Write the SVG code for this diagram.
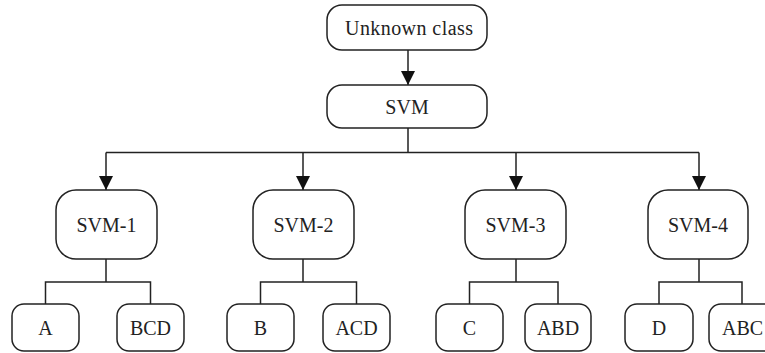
<svg xmlns="http://www.w3.org/2000/svg" width="765" height="353" viewBox="0 0 765 353">
<defs>
<marker id="arr" markerUnits="userSpaceOnUse" markerWidth="14" markerHeight="14" refX="14" refY="7" orient="auto">
<path d="M0,0 L14,7 L0,14 Z" fill="#111"/>
</marker>
<style>
rect{fill:#fff;stroke:#222;stroke-width:1.5}
text{font-family:"Liberation Serif","Times New Roman",serif;font-size:20px;fill:#222;text-anchor:middle}
.c{fill:none;stroke:#222;stroke-width:1.5}
</style>
</defs>
<rect x="0" y="0" width="765" height="353" style="fill:#fff;stroke:none"/>
<g id="connectors">
<path class="c" d="M408,50 V85" marker-end="url(#arr)"/>
<path class="c" d="M408,128 V152.5 M106,152.5 H699"/>
<path class="c" d="M106,152.5 V190" marker-end="url(#arr)"/>
<path class="c" d="M303,152.5 V190" marker-end="url(#arr)"/>
<path class="c" d="M516,152.5 V190" marker-end="url(#arr)"/>
<path class="c" d="M699,152.5 V190" marker-end="url(#arr)"/>
<path class="c" d="M106,259 V282 M45.5,304 V282 H150.5 V304"/>
<path class="c" d="M303,259 V282 M260.5,304 V282 H356.5 V304"/>
<path class="c" d="M516,259 V282 M469.5,304 V282 H558 V304"/>
<path class="c" d="M699,259 V282 M659,304 V282 H742 V304"/>
</g>
<g id="unknown"><rect x="327" y="5" width="160" height="45" rx="15"/><text x="409" y="34.5" textLength="128" lengthAdjust="spacing">Unknown class</text></g>
<g id="svm"><rect x="327" y="85" width="160" height="43" rx="15"/><text x="407" y="113.5">SVM</text></g>
<g id="svm1"><rect x="56" y="190" width="101" height="69" rx="20"/><text x="106.5" y="231.5">SVM-1</text></g>
<g id="svm2"><rect x="253" y="190" width="101" height="69" rx="20"/><text x="303.5" y="231.5">SVM-2</text></g>
<g id="svm3"><rect x="465" y="190" width="101" height="69" rx="20"/><text x="515.5" y="231.5">SVM-3</text></g>
<g id="svm4"><rect x="648" y="190" width="100" height="69" rx="20"/><text x="698" y="231.5">SVM-4</text></g>
<g id="a"><rect x="12" y="304" width="67" height="47" rx="12"/><text x="45.5" y="334.5">A</text></g>
<g id="bcd"><rect x="117" y="304" width="67" height="47" rx="12"/><text x="150.5" y="334.5">BCD</text></g>
<g id="b"><rect x="227" y="304" width="67" height="47" rx="12"/><text x="260.5" y="334.5">B</text></g>
<g id="acd"><rect x="323" y="304" width="67" height="47" rx="12"/><text x="356.5" y="334.5">ACD</text></g>
<g id="c"><rect x="436" y="304" width="67" height="47" rx="12"/><text x="469.5" y="334.5">C</text></g>
<g id="abd"><rect x="525" y="304" width="66" height="47" rx="12"/><text x="558" y="334.5">ABD</text></g>
<g id="d"><rect x="625" y="304" width="68" height="47" rx="12"/><text x="659" y="334.5">D</text></g>
<g id="abc"><rect x="709" y="304" width="67" height="47" rx="12"/><text x="742.5" y="334.5">ABC</text></g>
</svg>
